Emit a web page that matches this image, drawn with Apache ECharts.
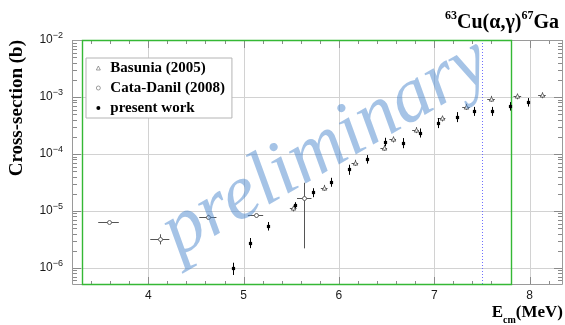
<!DOCTYPE html>
<html>
<head>
<meta charset="utf-8">
<script src="https://cdn.jsdelivr.net/npm/echarts@6/dist/echarts.min.js"></script>
<style>
  html, body { margin: 0; padding: 0; background: #fff; }
  #chart { width: 565px; height: 325px; }
</style>
</head>
<body>
<div id="chart"></div>
<script>
// 63Cu(alpha,gamma)67Ga capture cross-sections versus centre-of-mass energy

// present work: energy (MeV), cross-section (b), cross-section uncertainty (b)
const presentE = [4.886, 5.068, 5.258, 5.542, 5.731, 5.920, 6.102, 6.292, 6.481, 6.667, 6.848, 7.038, 7.235, 7.420, 7.606, 7.792, 7.985];
const presentSigma = [9.9e-7, 2.78e-6, 5.45e-6, 1.27e-5, 2.12e-5, 3.23e-5, 5.38e-5, 8.16e-5, 1.64e-4, 1.58e-4, 2.37e-4, 3.55e-4, 4.52e-4, 5.67e-4, 5.67e-4, 6.95e-4, 8.17e-4];
const presentErr = [2.4e-7, 5.6e-7, 9.3e-7, 1.5e-6, 3.8e-6, 5.8e-6, 1.08e-5, 1.39e-5, 2.8e-5, 3.2e-5, 4.3e-5, 7.1e-5, 9.0e-5, 1.02e-4, 1.02e-4, 1.18e-4, 1.39e-4];

// Basunia (2005)
const basuniaE = [5.52, 5.845, 6.167, 6.47, 6.564, 6.803, 7.076, 7.333, 7.595, 7.871, 8.129];
const basuniaEErr = [0.035, 0.035, 0.035, 0.035, 0.035, 0.035, 0.04, 0.04, 0.04, 0.04, 0.04];
const basuniaSigma = [1.11e-5, 2.56e-5, 7.05e-5, 1.29e-4, 1.81e-4, 2.64e-4, 4.22e-4, 6.76e-4, 9.35e-4, 1.03e-3, 1.08e-3];
const basuniaErr = [1.3e-6, 3.0e-6, 8.5e-6, 1.5e-5, 2.2e-5, 3.2e-5, 5.0e-5, 8.1e-5, 1.1e-4, 1.2e-4, 1.3e-4];

// Cata-Danil (2008)
const cataE = [3.583, 4.121, 4.625, 5.125, 5.636];
const cataEErr = [0.108, 0.10, 0.09, 0.08, 0.076];
const cataSigma = [6.3e-6, 3.23e-6, 7.96e-6, 8.3e-6, 1.67e-5];
const cataErr = [3e-7, 6.5e-7, 6e-7, 6e-7, 1.45e-5];

// axis ranges and tick labels
const xMin = 3.2, xMax = 8.35;
const yMin = 5e-7, yMax = 1e-2;
const xLabels = [4, 5, 6, 7, 8];
const xMajorTicks = [4, 5, 6, 7, 8];
const xMinorTicks = [3.4, 3.6, 3.8, 4.2, 4.4, 4.6, 4.8, 5.2, 5.4, 5.6, 5.8, 6.2, 6.4, 6.6, 6.8, 7.2, 7.4, 7.6, 7.8, 8.2];
const yMajorTicks = [1e-6, 1e-5, 1e-4, 1e-3, 1e-2];
const yMinorMultipliers = [2, 3, 4, 5, 6, 7, 8, 9];

// analysis window (green box) and threshold marker (dotted line)
const windowE = [3.3, 7.8];
const thresholdE = 7.5;

const serif = '"Liberation Serif", "Times New Roman", serif';
const sans = '"Liberation Sans", Arial, sans-serif';

function yMinorTicks() {
  const out = [];
  for (let d = -7; d <= -3; d++) {
    yMinorMultipliers.forEach(m => {
      const v = m * Math.pow(10, d);
      if (v > yMin * 1.001 && v < yMax * 0.999) out.push(v);
    });
  }
  return out;
}

function seg(x1, y1, x2, y2, style) {
  return { type: 'line', shape: { x1, y1, x2, y2 }, style };
}

// gridlines, inward ticks on all four sides, analysis window and threshold line
function renderFrame(params, api) {
  const cs = params.coordSys;
  const L = cs.x, R = cs.x + cs.width, T = cs.y, B = cs.y + cs.height;
  const kids = [];
  const gridStyle = { stroke: '#d2d2d2', lineWidth: 1 };
  const tickStyle = { stroke: '#8a8a8a', lineWidth: 1 };
  const px = v => Math.round(api.coord([v, yMax])[0]) + 0.5;
  const py = v => Math.round(api.coord([xMin, v])[1]) + 0.5;

  xMajorTicks.forEach(v => {
    const x = px(v);
    kids.push(seg(x, T, x, B, gridStyle));
  });
  yMajorTicks.forEach(v => {
    const y = py(v);
    kids.push(seg(L, y, R, y, gridStyle));
  });
  xMajorTicks.forEach(v => {
    const x = px(v);
    kids.push(seg(x, B, x, B - 8, tickStyle));
    kids.push(seg(x, T, x, T + 8, tickStyle));
  });
  xMinorTicks.forEach(v => {
    const x = px(v);
    kids.push(seg(x, B, x, B - 4, tickStyle));
    kids.push(seg(x, T, x, T + 4, tickStyle));
  });
  yMajorTicks.forEach(v => {
    const y = py(v);
    kids.push(seg(L, y, L + 9, y, tickStyle));
    kids.push(seg(R, y, R - 9, y, tickStyle));
  });
  yMinorTicks().forEach(v => {
    const y = py(v);
    kids.push(seg(L, y, L + 5, y, tickStyle));
    kids.push(seg(R, y, R - 5, y, tickStyle));
  });

  // frame
  kids.push({
    type: 'rect',
    shape: { x: Math.round(L) + 0.5, y: Math.round(T) + 0.5, width: Math.round(R - L) - 1, height: Math.round(B - T) - 1 },
    style: { fill: 'none', stroke: '#9a9a9a', lineWidth: 1 }
  });

  // threshold (dotted)
  const xt = px(thresholdE);
  kids.push(seg(xt, T, xt, B, { stroke: '#6f6fff', lineWidth: 1, lineDash: [1, 2] }));

  // analysis window (green)
  const xa = px(windowE[0]), xb = px(windowE[1]);
  kids.push({
    type: 'rect',
    shape: { x: xa, y: Math.round(T) + 0.5, width: xb - xa, height: Math.round(B - T) - 1 },
    style: { fill: 'none', stroke: '#35b835', lineWidth: 1.4 }
  });

  return { type: 'group', children: kids };
}

// points with horizontal / vertical error bars
function makeErrorRenderer(marker, color) {
  return function (params, api) {
    const x = api.value(0), y = api.value(1), ex = api.value(2), ey = api.value(3);
    const c = api.coord([x, y]);
    const ls = { stroke: color, lineWidth: 1 };
    const kids = [];
    const cx = Math.round(c[0]) + 0.5, cy = Math.round(c[1]) + 0.5;
    if (ex > 0) {
      const l = api.coord([x - ex, y])[0], r = api.coord([x + ex, y])[0];
      kids.push(seg(l, cy, r, cy, ls));
    }
    if (ey > 0) {
      const t = api.coord([x, Math.min(y + ey, yMax)])[1];
      const b = api.coord([x, Math.max(y - ey, yMin)])[1];
      kids.push(seg(cx, t, cx, b, ls));
    }
    if (marker === 'circle') {
      kids.push({ type: 'circle', shape: { cx, cy, r: 2 }, style: { fill: '#fff', stroke: color, lineWidth: 0.9 } });
    } else if (marker === 'triangle') {
      kids.push({ type: 'polygon', shape: { points: [[cx, cy - 2.4], [cx - 2.2, cy + 1.6], [cx + 2.2, cy + 1.6]] }, style: { fill: '#fff', stroke: color, lineWidth: 0.9 } });
    } else {
      kids.push({ type: 'rect', shape: { x: cx - 1.6, y: cy - 1.6, width: 3.2, height: 3.2 }, style: { fill: color } });
    }
    return { type: 'group', children: kids };
  };
}

const presentData = presentE.map((e, i) => [e, presentSigma[i], 0, presentErr[i]]);
const basuniaData = basuniaE.map((e, i) => [e, basuniaSigma[i], basuniaEErr[i], basuniaErr[i]]);
const cataData = cataE.map((e, i) => [e, cataSigma[i], cataEErr[i], cataErr[i]]);

const chart = echarts.init(document.getElementById('chart'), null, { renderer: 'canvas' });

chart.setOption({
  animation: false,
  backgroundColor: '#fff',
  title: {
    text: '{sup|63}{main|Cu(α,γ)}{sup|67}{main|Ga}',
    right: 6,
    top: 10,
    padding: 0,
    textStyle: {
      rich: {
        main: { fontFamily: serif, fontWeight: 'bold', fontSize: 20, lineHeight: 25, color: '#000' },
        sup: { fontFamily: serif, fontWeight: 'bold', fontSize: 12, verticalAlign: 'top', color: '#000' }
      }
    }
  },
  grid: { left: 72, right: 2, top: 40, bottom: 40, containLabel: false },
  legend: {
    orient: 'vertical',
    left: 86,
    top: 58,
    padding: [0, 7, 0, 10],
    itemGap: 0,
    itemWidth: 4,
    itemHeight: 4,
    borderColor: '#b4b4b4',
    borderWidth: 1,
    backgroundColor: '#fff',
    textStyle: { fontFamily: serif, fontWeight: 'bold', fontSize: 15, lineHeight: 20, color: '#000', padding: [0, 0, 0, 5] },
    data: [
      { name: 'Basunia (2005)', icon: 'triangle', itemStyle: { color: '#fff', borderColor: '#777', borderWidth: 0.7 } },
      { name: 'Cata-Danil (2008)', icon: 'circle', itemStyle: { color: '#fff', borderColor: '#777', borderWidth: 0.7 } },
      { name: 'present work', icon: 'circle', itemStyle: { color: '#000' } }
    ]
  },
  xAxis: {
    type: 'value',
    min: xMin,
    max: xMax,
    axisLine: { show: false },
    axisTick: { show: false },
    splitLine: { show: false },
    axisLabel: { customValues: xLabels, margin: 5, fontFamily: sans, fontSize: 12, color: '#1a1a1a' }
  },
  yAxis: {
    type: 'log',
    min: yMin,
    max: yMax,
    axisLine: { show: false },
    axisTick: { show: false },
    splitLine: { show: false },
    axisLabel: {
      margin: 9,
      showMinLabel: false,
      formatter: function (v) {
        const p = Math.log10(v);
        const r = Math.round(p);
        if (Math.abs(p - r) > 1e-6) return '';
        return '{b|10}{e|' + (r < 0 ? '−' + (-r) : r) + '}';
      },
      rich: {
        b: { fontFamily: sans, fontSize: 12, lineHeight: 18, color: '#1a1a1a' },
        e: { fontFamily: sans, fontSize: 9, verticalAlign: 'top', color: '#1a1a1a' }
      }
    }
  },
  graphic: [
    {
      type: 'text',
      x: 17,
      y: 40,
      rotation: Math.PI / 2,
      style: { text: 'Cross-section (b)', font: 'bold 19px ' + serif, fill: '#000', align: 'right', verticalAlign: 'middle' },
      z: 10
    },
    {
      type: 'text',
      x: 563,
      y: 313,
      style: {
        text: '{a|E}{s|cm}{a|(MeV)}',
        align: 'right',
        verticalAlign: 'middle',
        rich: {
          a: { font: 'bold 17px ' + serif, lineHeight: 24, fill: '#000' },
          s: { font: 'bold 10px ' + serif, verticalAlign: 'bottom', fill: '#000' }
        }
      },
      z: 10
    },
    {
      type: 'text',
      x: 326,
      y: 148,
      rotation: 30 * Math.PI / 180,
      style: { text: 'preliminary', font: 'italic 78px ' + serif, fill: 'rgba(75,135,205,0.5)', align: 'center', verticalAlign: 'middle' },
      z: 100,
      silent: true
    }
  ],
  series: [
    {
      name: 'frame',
      type: 'custom',
      renderItem: renderFrame,
      data: [[xMin, yMax]],
      z: 1,
      silent: true
    },
    {
      name: 'Basunia (2005)',
      type: 'custom',
      renderItem: makeErrorRenderer('triangle', '#555'),
      data: basuniaData,
      z: 3
    },
    {
      name: 'Cata-Danil (2008)',
      type: 'custom',
      renderItem: makeErrorRenderer('circle', '#555'),
      data: cataData,
      z: 3
    },
    {
      name: 'present work',
      type: 'custom',
      renderItem: makeErrorRenderer('square', '#000'),
      data: presentData,
      z: 4
    }
  ]
});
</script>
</body>
</html>
